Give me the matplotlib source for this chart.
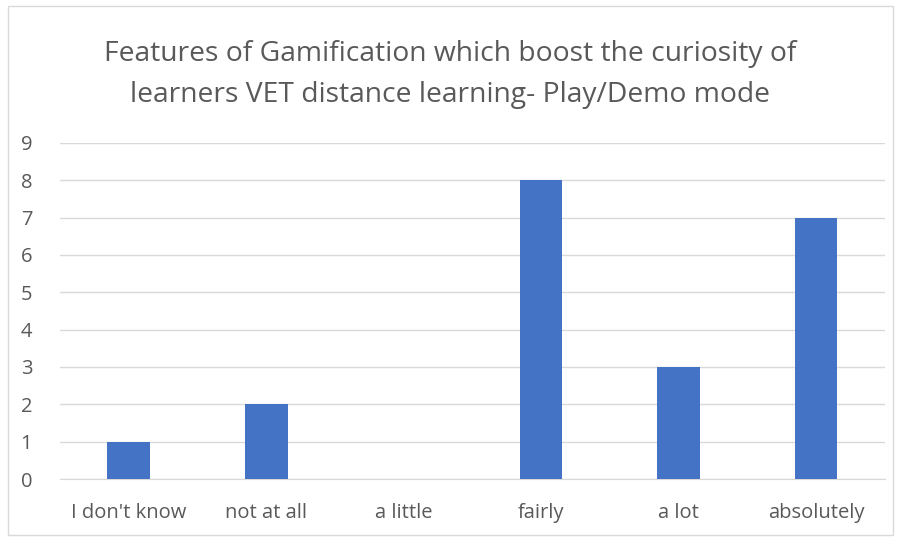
import matplotlib
matplotlib.use("Agg")
import matplotlib.pyplot as plt
from matplotlib.patches import Rectangle

categories = ["I don't know", "not at all", "a little", "fairly", "a lot", "absolutely"]
values = [1, 2, 0, 8, 3, 7]
yticks = list(range(0, 10))

matplotlib.rcParams["font.family"] = ["Open Sans", "DejaVu Sans"]

fig = plt.figure(figsize=(9.01, 5.41), dpi=100)
ax = fig.add_axes([0.0666, 0.1146, 0.9154, 0.6211])

ax.bar(range(len(categories)), values, width=0.31, color="#4472C4", zorder=3)

ax.set_xlim(-0.5, len(categories) - 0.5)
ax.set_ylim(0, 9)
ax.set_yticks(yticks)
ax.set_xticks(range(len(categories)))
ax.set_xticklabels(categories)
ax.yaxis.grid(True, color="#D9D9D9", linewidth=1, zorder=0)
ax.tick_params(axis="both", length=0, labelsize=14.5, labelcolor="#595959")
ax.tick_params(axis="x", pad=17)
ax.tick_params(axis="y", pad=20)
for side in ["top", "right", "left"]:
    ax.spines[side].set_visible(False)
ax.spines["bottom"].set_color("#D9D9D9")

fig.text(0.5, 0.862,
         "Features of Gamification which boost the curiosity of\nlearners VET distance learning- Play/Demo mode",
         ha="center", va="center", fontsize=20.3, color="#595959", linespacing=1.6)

fig.patches.append(Rectangle((0.009, 0.011), 0.982, 0.978, transform=fig.transFigure,
                             fill=False, edgecolor="#D9D9D9", linewidth=1))

fig.savefig("out.png", dpi=100)
